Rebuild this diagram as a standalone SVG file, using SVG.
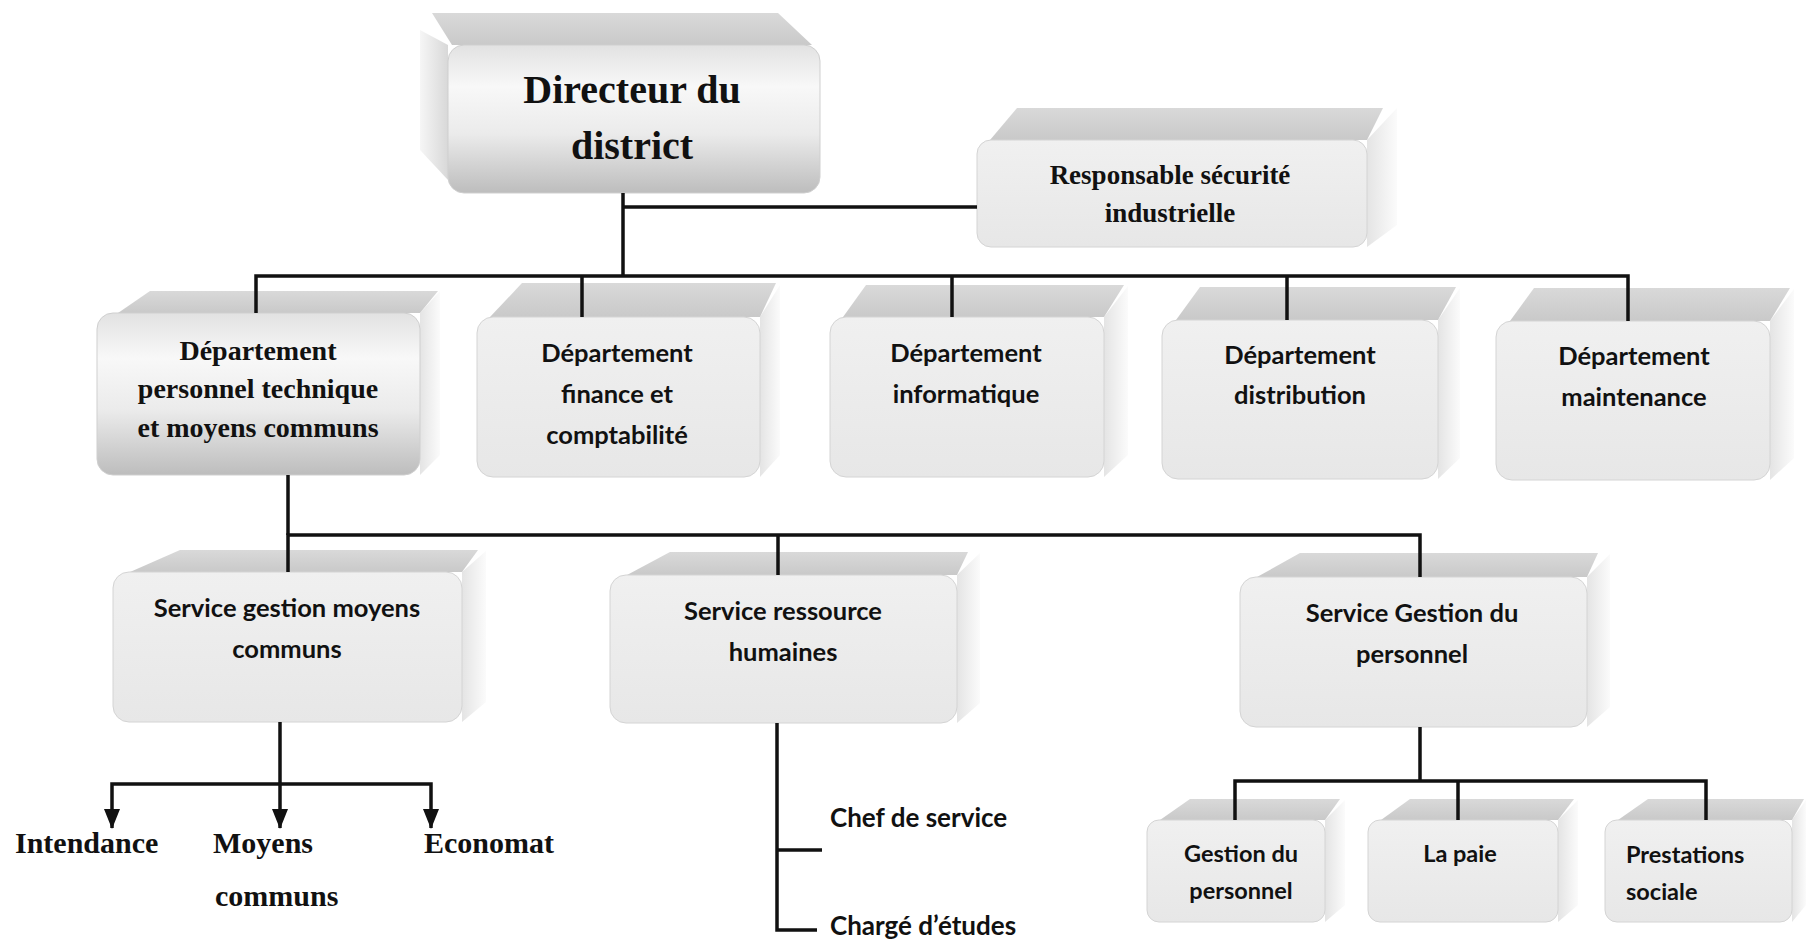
<svg xmlns="http://www.w3.org/2000/svg" width="1807" height="942" viewBox="0 0 1807 942">
  <defs>
    <linearGradient id="gloss" x1="0" y1="0" x2="0" y2="1">
      <stop offset="0" stop-color="#e2e2e2"/>
      <stop offset="0.28" stop-color="#f8f8f8"/>
      <stop offset="0.6" stop-color="#ebebeb"/>
      <stop offset="1" stop-color="#bdbdbd"/>
    </linearGradient>
    <linearGradient id="flat" x1="0" y1="0" x2="0" y2="1">
      <stop offset="0" stop-color="#f0f0f0"/>
      <stop offset="1" stop-color="#e7e7e7"/>
    </linearGradient>
    <linearGradient id="top" x1="0" y1="0" x2="0" y2="1">
      <stop offset="0" stop-color="#d9d9d9"/>
      <stop offset="1" stop-color="#c9c9c9"/>
    </linearGradient>
    <linearGradient id="side" x1="0" y1="0" x2="1" y2="0">
      <stop offset="0" stop-color="#e4e4e4"/>
      <stop offset="1" stop-color="#fbfbfb"/>
    </linearGradient>
    <linearGradient id="sideL" x1="1" y1="0" x2="0" y2="0">
      <stop offset="0" stop-color="#d8d8d8"/>
      <stop offset="1" stop-color="#f6f6f6"/>
    </linearGradient>
    <!-- filled triangle, drawn along +x so orient="auto" follows the line -->
    <marker id="arrow" markerUnits="userSpaceOnUse" markerWidth="20" markerHeight="16" refX="19" refY="8" orient="auto-start-reverse" viewBox="0 0 20 16">
      <path d="M0,0 L20,8 L0,16 Z" fill="#111"/>
    </marker>
  </defs>
  <style>
    .topf { fill: url(#top); }
    .sidef { fill: url(#side); }
    .front { fill: url(#flat); stroke: #d4d4d4; stroke-width: 1; }
    .glossy { fill: url(#gloss); stroke: #cfcfcf; stroke-width: 1; }
    .serif { font-family: "Liberation Serif", "Times New Roman", serif; font-weight: bold; fill: #111; }
    .sans { font-family: Lato, "Liberation Sans", sans-serif; font-weight: bold; fill: #111; }
    .mid { text-anchor: middle; }
    .wire { fill: none; stroke: #111; stroke-width: 3.5; stroke-linejoin: miter; }
  </style>

  <rect width="1807" height="942" fill="#ffffff"/>

  <!-- top level -->
  <g id="directeur">
    <path d="M420,30 L448,45 L448,180 L420,150 Z" fill="url(#sideL)"/>
    <path d="M452,45 L432,13 L778,13 L812,45 Z" class="topf"/>
    <rect x="448" y="45" width="372" height="148" rx="16" class="glossy"/>
    <text class="serif mid" x="632" y="103" font-size="40">Directeur du</text>
    <text class="serif mid" x="632" y="159" font-size="40">district</text>
  </g>

  <g id="responsable">
    <path d="M1367,140 L1397,108 L1397,225 L1367,247 Z" class="sidef"/>
    <path d="M990,140 L1017,108 L1383,108 L1367,140 Z" class="topf"/>
    <rect x="977" y="140" width="390" height="107" rx="14" class="front"/>
    <text class="serif mid" x="1170" y="184" font-size="27">Responsable sécurité</text>
    <text class="serif mid" x="1170" y="222" font-size="27">industrielle</text>
  </g>

  <!-- departments -->
  <g id="dep-personnel">
    <path d="M420,313 L440,291 L440,455 L420,475 Z" class="sidef"/>
    <path d="M118,313 L150,291 L438,291 L420,313 Z" class="topf"/>
    <rect x="97" y="313" width="323" height="162" rx="16" class="glossy"/>
    <text class="serif mid" x="258" y="360" font-size="28">Département</text>
    <text class="serif mid" x="258" y="398" font-size="28">personnel technique</text>
    <text class="serif mid" x="258" y="437" font-size="28">et moyens communs</text>
  </g>

  <g id="dep-finance">
    <path d="M760,317 L780,285 L780,455 L760,477 Z" class="sidef"/>
    <path d="M490,317 L522,283 L776,283 L760,317 Z" class="topf"/>
    <rect x="477" y="317" width="283" height="160" rx="16" class="front"/>
    <text class="sans mid" x="617" y="362" font-size="25.5">Département</text>
    <text class="sans mid" x="617" y="403" font-size="25.5">finance et</text>
    <text class="sans mid" x="617" y="444" font-size="25.5">comptabilité</text>
  </g>

  <g id="dep-informatique">
    <path d="M1104,317 L1128,286 L1128,455 L1104,477 Z" class="sidef"/>
    <path d="M843,317 L866,285 L1124,285 L1104,317 Z" class="topf"/>
    <rect x="830" y="317" width="274" height="160" rx="16" class="front"/>
    <text class="sans mid" x="966" y="362" font-size="25.5">Département</text>
    <text class="sans mid" x="966" y="403" font-size="25.5">informatique</text>
  </g>

  <g id="dep-distribution">
    <path d="M1438,320 L1460,288 L1460,458 L1438,479 Z" class="sidef"/>
    <path d="M1176,320 L1200,287 L1456,287 L1438,320 Z" class="topf"/>
    <rect x="1162" y="320" width="276" height="159" rx="16" class="front"/>
    <text class="sans mid" x="1300" y="364" font-size="25.5">Département</text>
    <text class="sans mid" x="1300" y="404" font-size="25.5">distribution</text>
  </g>

  <g id="dep-maintenance">
    <path d="M1770,321 L1794,289 L1794,458 L1770,480 Z" class="sidef"/>
    <path d="M1510,321 L1534,288 L1790,288 L1770,321 Z" class="topf"/>
    <rect x="1496" y="321" width="274" height="159" rx="16" class="front"/>
    <text class="sans mid" x="1634" y="365" font-size="25.5">Département</text>
    <text class="sans mid" x="1634" y="406" font-size="25.5">maintenance</text>
  </g>

  <!-- services -->
  <g id="srv-moyens">
    <path d="M462,572 L486,551 L486,702 L462,722 Z" class="sidef"/>
    <path d="M130,572 L180,550 L478,550 L462,572 Z" class="topf"/>
    <rect x="113" y="572" width="349" height="150" rx="16" class="front"/>
    <text class="sans mid" x="287" y="617" font-size="25.5">Service gestion moyens</text>
    <text class="sans mid" x="287" y="658" font-size="25.5">communs</text>
  </g>

  <g id="srv-rh">
    <path d="M957,575 L980,553 L980,703 L957,723 Z" class="sidef"/>
    <path d="M627,575 L670,552 L968,552 L957,575 Z" class="topf"/>
    <rect x="610" y="575" width="347" height="148" rx="16" class="front"/>
    <text class="sans mid" x="783" y="620" font-size="25.5">Service ressource</text>
    <text class="sans mid" x="783" y="661" font-size="25.5">humaines</text>
  </g>

  <g id="srv-personnel">
    <path d="M1587,577 L1610,554 L1610,707 L1587,727 Z" class="sidef"/>
    <path d="M1257,577 L1300,553 L1598,553 L1587,577 Z" class="topf"/>
    <rect x="1240" y="577" width="347" height="150" rx="16" class="front"/>
    <text class="sans mid" x="1412" y="622" font-size="25.5">Service Gestion du</text>
    <text class="sans mid" x="1412" y="663" font-size="25.5">personnel</text>
  </g>

  <!-- units under personnel management -->
  <g id="u-gestion">
    <path d="M1325,820 L1345,800 L1345,905 L1325,922 Z" class="sidef"/>
    <path d="M1160,820 L1190,799 L1340,799 L1325,820 Z" class="topf"/>
    <rect x="1147" y="820" width="178" height="102" rx="12" class="front"/>
    <text class="sans mid" x="1241" y="862" font-size="23.5">Gestion du</text>
    <text class="sans mid" x="1241" y="899" font-size="23.5">personnel</text>
  </g>

  <g id="u-paie">
    <path d="M1558,820 L1578,800 L1578,905 L1558,922 Z" class="sidef"/>
    <path d="M1381,820 L1410,799 L1574,799 L1558,820 Z" class="topf"/>
    <rect x="1368" y="820" width="190" height="102" rx="12" class="front"/>
    <text class="sans mid" x="1460" y="862" font-size="23.5">La paie</text>
  </g>

  <g id="u-prestations">
    <path d="M1792,820 L1806,800 L1806,905 L1792,922 Z" class="sidef"/>
    <path d="M1618,820 L1648,799 L1804,799 L1792,820 Z" class="topf"/>
    <rect x="1605" y="820" width="187" height="102" rx="12" class="front"/>
    <text class="sans" x="1626" y="863" font-size="23.5">Prestations</text>
    <text class="sans" x="1626" y="900" font-size="23.5">sociale</text>
  </g>

  <!-- free labels -->
  <g id="l-intendance"><text class="serif" x="15" y="853" font-size="30">Intendance</text></g>
  <g id="l-moyens">
    <text class="serif" x="213" y="853" font-size="30">Moyens</text>
    <text class="serif" x="215" y="906" font-size="30">communs</text>
  </g>
  <g id="l-economat"><text class="serif" x="424" y="853" font-size="30">Economat</text></g>
  <g id="l-chef"><text class="sans" x="830" y="827" font-size="26">Chef de service</text></g>
  <g id="l-charge"><text class="sans" x="830" y="935" font-size="26">Chargé d’études</text></g>

  <!-- connectors -->
  <g id="connectors" class="wire">
    <path d="M623,193 V276"/>
    <path d="M623,207 H977"/>
    <path d="M256,313 V276 H1628 V321"/>
    <path d="M582,276 V317"/>
    <path d="M952,276 V317"/>
    <path d="M1287,276 V320"/>

    <path d="M288,475 V535"/>
    <path d="M288,572 V535 H1420 V577"/>
    <path d="M778,535 V575"/>

    <path d="M280,722 V784"/>
    <path d="M112,828 V784 H431 V828" marker-start="url(#arrow)" marker-end="url(#arrow)"/>
    <path d="M280,784 V828" marker-end="url(#arrow)"/>

    <path d="M777,723 V930 H817"/>
    <path d="M777,850 H822"/>

    <path d="M1420,727 V781"/>
    <path d="M1235,820 V781 H1706 V820"/>
    <path d="M1458,781 V820"/>
  </g>
</svg>
